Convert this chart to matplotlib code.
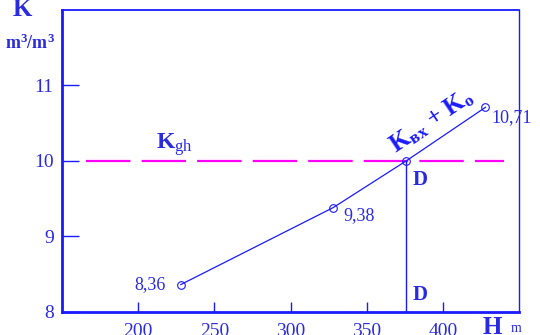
import matplotlib
matplotlib.use("Agg")
import matplotlib.pyplot as plt

# Data
H = [228, 328, 376, 428]
K = [8.36, 9.38, 10.0, 10.71]
point_labels = ["8,36", "9,38", "", "10,71"]
K_gh = 10.0
H_D = 376
x_ticks = [200, 250, 300, 350, 400]
y_ticks = [8, 9, 10, 11]

BLUE = "#1a1aff"
TXT = "#2a2ae0"
MAG = "#ff00ff"
SERIF = ["Liberation Serif", "DejaVu Serif"]

plt.rcParams["font.family"] = SERIF
plt.rcParams["mathtext.fontset"] = "custom"
plt.rcParams["mathtext.rm"] = "Liberation Serif"
plt.rcParams["mathtext.it"] = "Liberation Serif:italic"
plt.rcParams["mathtext.bf"] = "Liberation Serif:bold"

fig = plt.figure(figsize=(5.4, 3.35), dpi=100)
ax = fig.add_axes([62/540, 1 - 311.7/335, (519-62)/540, (311.7-10)/335])
ax.set_xlim(150, 450)
ax.set_ylim(8, 12)

# spines
for s, lw in [("left", 2.0), ("bottom", 2.0), ("top", 1.3), ("right", 1.0)]:
    ax.spines[s].set_color(BLUE)
    ax.spines[s].set_linewidth(lw)

ax.set_xticks(x_ticks)
ax.set_yticks(y_ticks)
ax.tick_params(axis="y", direction="in", length=12, width=1.0, color=BLUE,
               labelcolor=TXT, labelsize=14, pad=6)
ax.tick_params(axis="x", direction="in", length=7, width=1.0, color=BLUE,
               labelcolor=TXT, labelsize=14, pad=8)

# K_gh dashed line
ax.plot([166, 440], [K_gh, K_gh], color=MAG, lw=1.6, dashes=(20, 5))

# vertical line at D
ax.plot([H_D, H_D], [8, K_gh], color=BLUE, lw=1.0)

# main line with points
ax.plot(H, K, color=BLUE, lw=0.9, marker="o", markersize=5.5,
        markerfacecolor="none", markeredgecolor=BLUE, markeredgewidth=0.8)

# point labels
ax.text(H[0] - 10, K[0], point_labels[0], color=TXT, fontsize=13,
        ha="right", va="center")
ax.text(H[1] + 7, K[1] - 0.1, point_labels[1], color=TXT, fontsize=13,
        ha="left", va="center")
ax.text(H[3] + 4, K[3] - 0.13, point_labels[3], color=TXT, fontsize=13,
        ha="left", va="center")

# D labels
ax.text(H_D + 4, 9.74, "D", color=TXT, fontsize=15, fontweight="bold",
        ha="left", va="center")
ax.text(H_D + 4, 8.22, "D", color=TXT, fontsize=15, fontweight="bold",
        ha="left", va="center")

# K_gh label
ax.text(212, 10.22, r"$\mathbf{K}_{\mathrm{gh}}$", color=TXT, fontsize=17,
        ha="left", va="center")

# line label
ax.text(393, 10.53, r"$\mathbf{K}_{\mathbf{вх}}\mathbf{\,+\,K}_{\mathbf{o}}$",
        color=BLUE, fontsize=18, rotation=34, ha="center",
        va="center", rotation_mode="anchor")

# axis labels
fig.text(22/540, 1 - 9/335, "K", color=TXT, fontsize=18, fontweight="bold",
         ha="center", va="center")
fig.text(30/540, 1 - 43/335, r"$\mathbf{m^{3}/m^{3}}$", color=TXT, fontsize=13,
         ha="center", va="center")
fig.text(492/540, 1 - 327/335, "H", color=TXT, fontsize=18, fontweight="bold",
         ha="center", va="center")
fig.text(516/540, 1 - 329/335, "m", color=TXT, fontsize=10,
         ha="center", va="center")

fig.savefig("out.png", dpi=100)
